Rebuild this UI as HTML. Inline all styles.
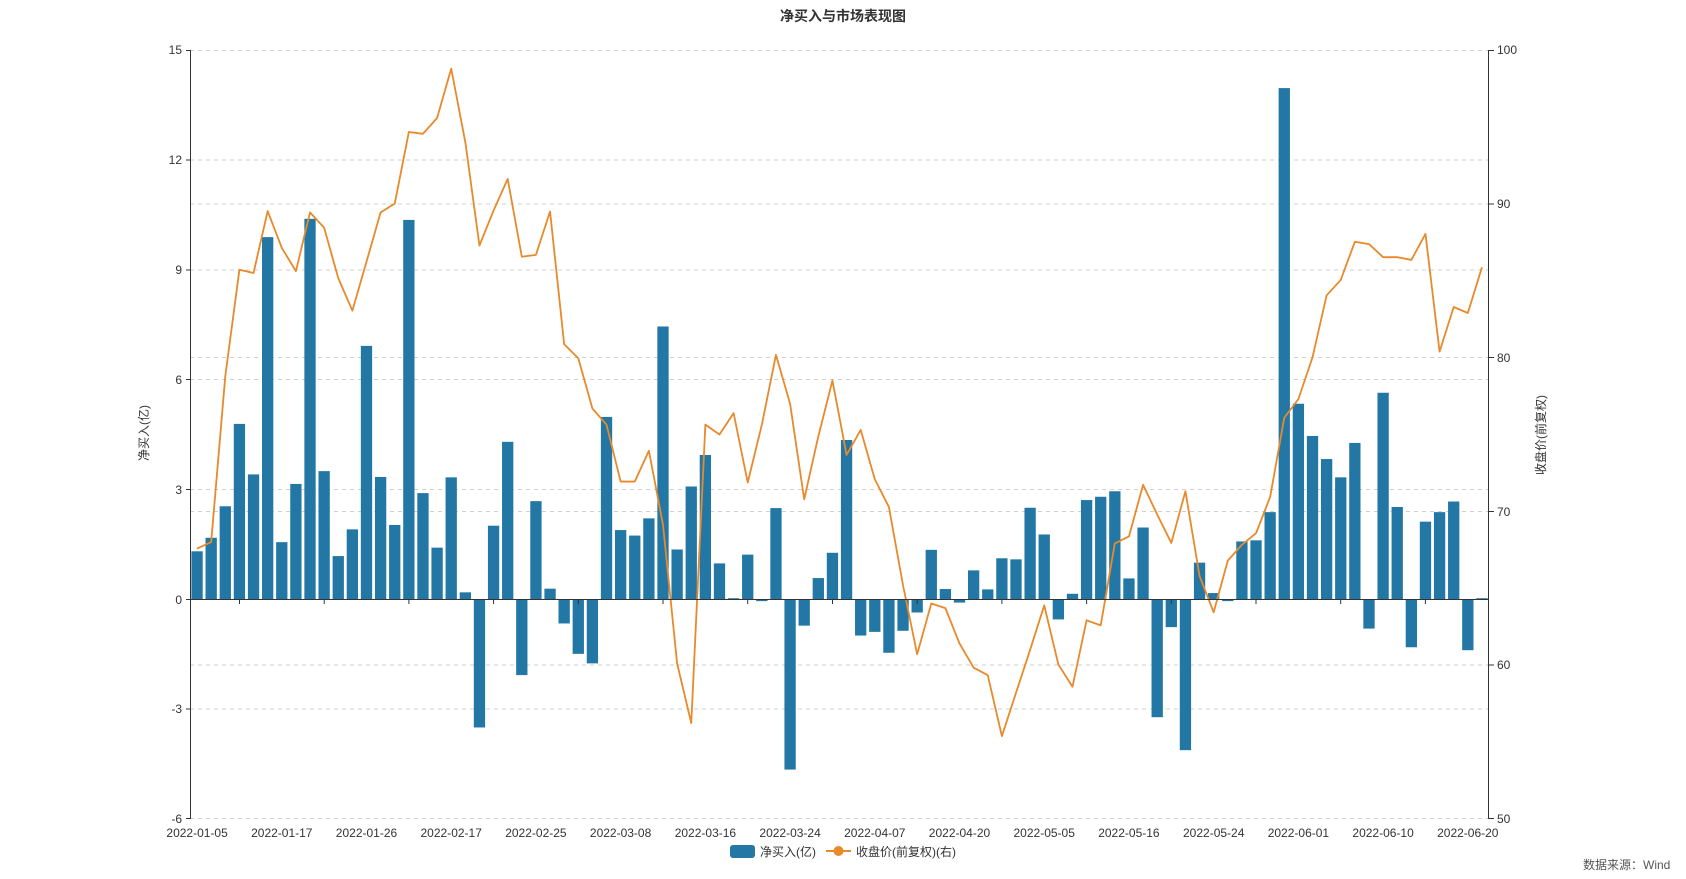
<!DOCTYPE html>
<html><head><meta charset="utf-8"><style>
html,body{margin:0;padding:0;background:#fff;width:1686px;height:879px;overflow:hidden}
svg{display:block}
text{font-family:"Liberation Sans","Noto Sans CJK SC",sans-serif;fill:#333}
</style></head><body>
<svg width="1686" height="879" viewBox="0 0 1686 879" xmlns="http://www.w3.org/2000/svg">
<rect width="1686" height="879" fill="#fff"/>
<text x="843" y="21" text-anchor="middle" font-size="14" font-weight="bold" style="fill:#333">净买入与市场表现图</text>
<!-- gridlines -->
<g stroke="#cfcfcf" stroke-width="1" stroke-dasharray="4,4">
<line x1="190" x2="1489" y1="50.5" y2="50.5"/>
<line x1="190" x2="1489" y1="160" y2="160"/>
<line x1="190" x2="1489" y1="204" y2="204"/>
<line x1="190" x2="1489" y1="270" y2="270"/>
<line x1="190" x2="1489" y1="357.5" y2="357.5"/>
<line x1="190" x2="1489" y1="379.5" y2="379.5"/>
<line x1="190" x2="1489" y1="489.5" y2="489.5"/>
<line x1="190" x2="1489" y1="511.5" y2="511.5"/>
<line x1="190" x2="1489" y1="665" y2="665"/>
<line x1="190" x2="1489" y1="709" y2="709"/>
<line x1="190" x2="1489" y1="818.5" y2="818.5"/>
</g>
<!-- bars -->
<g transform="translate(197.06,599.29) scale(14.1196,-36.619)" fill="#2377a4">
<rect x="-0.4" y="0" width="0.8" height="1.31"/>
<rect x="0.6" y="0" width="0.8" height="1.68"/>
<rect x="1.6" y="0" width="0.8" height="2.54"/>
<rect x="2.6" y="0" width="0.8" height="4.79"/>
<rect x="3.6" y="0" width="0.8" height="3.41"/>
<rect x="4.6" y="0" width="0.8" height="9.89"/>
<rect x="5.6" y="0" width="0.8" height="1.56"/>
<rect x="6.6" y="0" width="0.8" height="3.15"/>
<rect x="7.6" y="0" width="0.8" height="10.39"/>
<rect x="8.6" y="0" width="0.8" height="3.50"/>
<rect x="9.6" y="0" width="0.8" height="1.18"/>
<rect x="10.6" y="0" width="0.8" height="1.91"/>
<rect x="11.6" y="0" width="0.8" height="6.92"/>
<rect x="12.6" y="0" width="0.8" height="3.34"/>
<rect x="13.6" y="0" width="0.8" height="2.03"/>
<rect x="14.6" y="0" width="0.8" height="10.36"/>
<rect x="15.6" y="0" width="0.8" height="2.90"/>
<rect x="16.6" y="0" width="0.8" height="1.41"/>
<rect x="17.6" y="0" width="0.8" height="3.33"/>
<rect x="18.6" y="0" width="0.8" height="0.19"/>
<rect x="19.6" y="-3.50" width="0.8" height="3.50"/>
<rect x="20.6" y="0" width="0.8" height="2.01"/>
<rect x="21.6" y="0" width="0.8" height="4.30"/>
<rect x="22.6" y="-2.07" width="0.8" height="2.07"/>
<rect x="23.6" y="0" width="0.8" height="2.68"/>
<rect x="24.6" y="0" width="0.8" height="0.29"/>
<rect x="25.6" y="-0.66" width="0.8" height="0.66"/>
<rect x="26.6" y="-1.49" width="0.8" height="1.49"/>
<rect x="27.6" y="-1.75" width="0.8" height="1.75"/>
<rect x="28.6" y="0" width="0.8" height="4.98"/>
<rect x="29.6" y="0" width="0.8" height="1.89"/>
<rect x="30.6" y="0" width="0.8" height="1.74"/>
<rect x="31.6" y="0" width="0.8" height="2.21"/>
<rect x="32.6" y="0" width="0.8" height="7.45"/>
<rect x="33.6" y="0" width="0.8" height="1.36"/>
<rect x="34.6" y="0" width="0.8" height="3.08"/>
<rect x="35.6" y="0" width="0.8" height="3.94"/>
<rect x="36.6" y="0" width="0.8" height="0.98"/>
<rect x="37.6" y="0" width="0.8" height="0.03"/>
<rect x="38.6" y="0" width="0.8" height="1.22"/>
<rect x="39.6" y="-0.05" width="0.8" height="0.05"/>
<rect x="40.6" y="0" width="0.8" height="2.49"/>
<rect x="41.6" y="-4.65" width="0.8" height="4.65"/>
<rect x="42.6" y="-0.72" width="0.8" height="0.72"/>
<rect x="43.6" y="0" width="0.8" height="0.58"/>
<rect x="44.6" y="0" width="0.8" height="1.27"/>
<rect x="45.6" y="0" width="0.8" height="4.35"/>
<rect x="46.6" y="-0.99" width="0.8" height="0.99"/>
<rect x="47.6" y="-0.89" width="0.8" height="0.89"/>
<rect x="48.6" y="-1.46" width="0.8" height="1.46"/>
<rect x="49.6" y="-0.86" width="0.8" height="0.86"/>
<rect x="50.6" y="-0.36" width="0.8" height="0.36"/>
<rect x="51.6" y="0" width="0.8" height="1.35"/>
<rect x="52.6" y="0" width="0.8" height="0.28"/>
<rect x="53.6" y="-0.09" width="0.8" height="0.09"/>
<rect x="54.6" y="0" width="0.8" height="0.79"/>
<rect x="55.6" y="0" width="0.8" height="0.27"/>
<rect x="56.6" y="0" width="0.8" height="1.12"/>
<rect x="57.6" y="0" width="0.8" height="1.09"/>
<rect x="58.6" y="0" width="0.8" height="2.50"/>
<rect x="59.6" y="0" width="0.8" height="1.77"/>
<rect x="60.6" y="-0.55" width="0.8" height="0.55"/>
<rect x="61.6" y="0" width="0.8" height="0.15"/>
<rect x="62.6" y="0" width="0.8" height="2.71"/>
<rect x="63.6" y="0" width="0.8" height="2.80"/>
<rect x="64.6" y="0" width="0.8" height="2.95"/>
<rect x="65.6" y="0" width="0.8" height="0.57"/>
<rect x="66.6" y="0" width="0.8" height="1.96"/>
<rect x="67.6" y="-3.22" width="0.8" height="3.22"/>
<rect x="68.6" y="-0.76" width="0.8" height="0.76"/>
<rect x="69.6" y="-4.12" width="0.8" height="4.12"/>
<rect x="70.6" y="0" width="0.8" height="1.00"/>
<rect x="71.6" y="0" width="0.8" height="0.17"/>
<rect x="72.6" y="-0.05" width="0.8" height="0.05"/>
<rect x="73.6" y="0" width="0.8" height="1.58"/>
<rect x="74.6" y="0" width="0.8" height="1.61"/>
<rect x="75.6" y="0" width="0.8" height="2.38"/>
<rect x="76.6" y="0" width="0.8" height="13.96"/>
<rect x="77.6" y="0" width="0.8" height="5.34"/>
<rect x="78.6" y="0" width="0.8" height="4.46"/>
<rect x="79.6" y="0" width="0.8" height="3.83"/>
<rect x="80.6" y="0" width="0.8" height="3.33"/>
<rect x="81.6" y="0" width="0.8" height="4.27"/>
<rect x="82.6" y="-0.80" width="0.8" height="0.80"/>
<rect x="83.6" y="0" width="0.8" height="5.64"/>
<rect x="84.6" y="0" width="0.8" height="2.52"/>
<rect x="85.6" y="-1.31" width="0.8" height="1.31"/>
<rect x="86.6" y="0" width="0.8" height="2.12"/>
<rect x="87.6" y="0" width="0.8" height="2.38"/>
<rect x="88.6" y="0" width="0.8" height="2.67"/>
<rect x="89.6" y="-1.39" width="0.8" height="1.39"/>
<rect x="90.6" y="0" width="0.8" height="0.03"/>
</g>
<!-- line -->
<g transform="translate(197.06,1588) scale(14.1196,-15.38)">
<polyline fill="none" stroke="#e8892a" stroke-width="1.8" vector-effect="non-scaling-stroke" stroke-linejoin="round" points="0,67.58 1,68.01 2,78.8 3,85.71 4,85.50 5,89.53 6,87.14 7,85.62 8,89.44 9,88.44 10,85.17 11,83.05 12,86.23 13,89.44 14,90.01 15,94.67 16,94.55 17,95.58 18,98.79 19,94.0 20,87.29 21,89.56 22,91.62 23,86.56 24,86.68 25,89.50 26,80.87 27,79.96 28,76.69 29,75.64 30,71.94 31,71.94 32,73.94 33,69.13 34,60.11 35,56.24 36,75.64 37,75.00 38,76.39 39,71.88 40,75.64 41,80.18 42,77.00 43,70.79 44,74.88 45,78.51 46,73.67 47,75.30 48,72.09 49,70.28 50,65.19 51,60.71 52,64.01 53,63.71 54,61.41 55,59.84 56,59.35 57,55.39 58,58.2 59,61.0 60,63.89 61,60.05 62,58.60 63,62.92 64,62.59 65,67.92 66,68.37 67,71.73 68,69.8 69,67.95 70,71.31 71,65.80 72,63.44 73,66.80 74,67.83 75,68.58 76,70.94 77,76.09 78,77.30 79,80.02 80,84.05 81,85.05 82,87.53 83,87.38 84,86.53 85,86.53 86,86.35 87,88.04 88,80.39 89,83.29 90,82.90 91,85.87"/>
</g>
<!-- axes -->
<g stroke="#333" stroke-width="1">
<line x1="190.5" y1="50" x2="190.5" y2="819"/>
<line x1="1488.5" y1="50" x2="1488.5" y2="819"/>
<line x1="190" y1="599.5" x2="1489" y2="599.5"/>
<line x1="186" x2="190" y1="50.5" y2="50.5"/>
<line x1="186" x2="190" y1="160" y2="160"/>
<line x1="186" x2="190" y1="270" y2="270"/>
<line x1="186" x2="190" y1="379.5" y2="379.5"/>
<line x1="186" x2="190" y1="489.5" y2="489.5"/>
<line x1="186" x2="190" y1="599.5" y2="599.5"/>
<line x1="186" x2="190" y1="709" y2="709"/>
<line x1="186" x2="190" y1="818.5" y2="818.5"/>
<line x1="1489" x2="1494" y1="50.5" y2="50.5"/>
<line x1="1489" x2="1494" y1="204" y2="204"/>
<line x1="1489" x2="1494" y1="357.5" y2="357.5"/>
<line x1="1489" x2="1494" y1="511.5" y2="511.5"/>
<line x1="1489" x2="1494" y1="665" y2="665"/>
<line x1="1489" x2="1494" y1="818.5" y2="818.5"/>
<line x1="239.5" x2="239.5" y1="599" y2="604"/>
<line x1="324.2" x2="324.2" y1="599" y2="604"/>
<line x1="408.9" x2="408.9" y1="599" y2="604"/>
<line x1="493.6" x2="493.6" y1="599" y2="604"/>
<line x1="578.3" x2="578.3" y1="599" y2="604"/>
<line x1="663.0" x2="663.0" y1="599" y2="604"/>
<line x1="747.7" x2="747.7" y1="599" y2="604"/>
<line x1="832.5" x2="832.5" y1="599" y2="604"/>
<line x1="917.2" x2="917.2" y1="599" y2="604"/>
<line x1="1001.9" x2="1001.9" y1="599" y2="604"/>
<line x1="1086.6" x2="1086.6" y1="599" y2="604"/>
<line x1="1171.3" x2="1171.3" y1="599" y2="604"/>
<line x1="1256.0" x2="1256.0" y1="599" y2="604"/>
<line x1="1340.7" x2="1340.7" y1="599" y2="604"/>
<line x1="1425.4" x2="1425.4" y1="599" y2="604"/>
</g>
<!-- left labels -->
<g font-size="12" text-anchor="end">
<text x="182" y="54">15</text>
<text x="182" y="164">12</text>
<text x="182" y="274">9</text>
<text x="182" y="384">6</text>
<text x="182" y="494">3</text>
<text x="182" y="604">0</text>
<text x="182" y="713">-3</text>
<text x="182" y="823">-6</text>
</g>
<g font-size="12" text-anchor="start">
<text x="1497" y="54">100</text>
<text x="1497" y="208">90</text>
<text x="1497" y="362">80</text>
<text x="1497" y="516">70</text>
<text x="1497" y="669">60</text>
<text x="1497" y="823">50</text>
</g>
<!-- x labels -->
<g font-size="12" text-anchor="middle">
<text x="197.1" y="837">2022-01-05</text>
<text x="281.8" y="837">2022-01-17</text>
<text x="366.5" y="837">2022-01-26</text>
<text x="451.2" y="837">2022-02-17</text>
<text x="535.9" y="837">2022-02-25</text>
<text x="620.6" y="837">2022-03-08</text>
<text x="705.4" y="837">2022-03-16</text>
<text x="790.1" y="837">2022-03-24</text>
<text x="874.8" y="837">2022-04-07</text>
<text x="959.5" y="837">2022-04-20</text>
<text x="1044.2" y="837">2022-05-05</text>
<text x="1128.9" y="837">2022-05-16</text>
<text x="1213.7" y="837">2022-05-24</text>
<text x="1298.4" y="837">2022-06-01</text>
<text x="1383.1" y="837">2022-06-10</text>
<text x="1467.8" y="837">2022-06-20</text>
</g>
<!-- axis names -->
<text font-size="12" text-anchor="middle" transform="translate(148,433) rotate(-90)">净买入(亿)</text>
<text font-size="12" text-anchor="middle" transform="translate(1545,435) rotate(-90)">收盘价(前复权)</text>
<!-- legend -->
<rect x="730" y="845" width="25" height="13" rx="3" fill="#2377a4"/>
<text x="760" y="856" font-size="12">净买入(亿)</text>
<line x1="826" y1="851" x2="851" y2="851" stroke="#e8892a" stroke-width="2"/>
<circle cx="838.5" cy="851" r="5" fill="#e8892a"/>
<text x="856" y="856" font-size="12">收盘价(前复权)(右)</text>
<text x="1583" y="869" font-size="12" style="fill:#555">数据来源：Wind</text>
</svg>
</body></html>
